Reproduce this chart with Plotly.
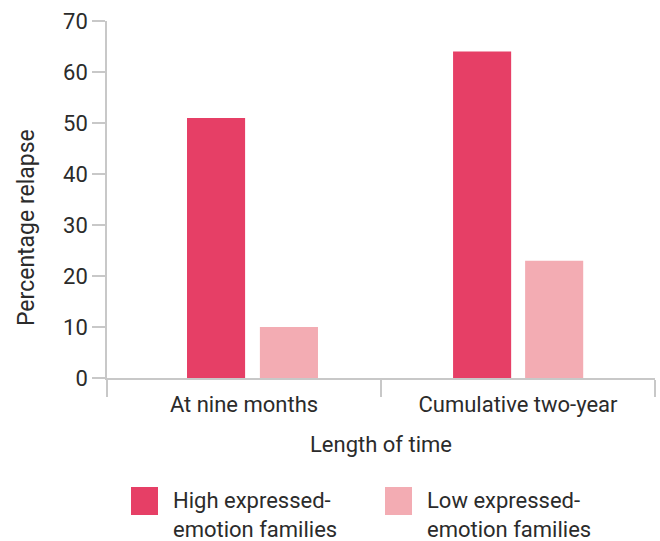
import plotly.graph_objects as go

# Relapse rates by family expressed-emotion level
categories = ["At nine months", "Cumulative two-year"]
high_ee = [51, 64]
low_ee = [10, 23]
series_names = ["High expressed-<br>emotion families", "Low expressed-<br>emotion families"]
y_ticks = [0, 10, 20, 30, 40, 50, 60, 70]

HIGH_COLOR = "#E63F66"
LOW_COLOR = "#F3ACB3"
AXIS_COLOR = "#C8C8C8"
TEXT_COLOR = "#2B2B2B"
FONT = "Roboto, Arial, sans-serif"
FS = 22
BAR_W = 0.212

fig = go.Figure()
fig.add_trace(go.Bar(x=categories, y=high_ee, name=series_names[0],
                     width=BAR_W, offset=[-0.208, -0.237],
                     marker=dict(color=HIGH_COLOR, line=dict(width=0))))
fig.add_trace(go.Bar(x=categories, y=low_ee, name=series_names[1],
                     width=BAR_W, offset=[0.058, 0.026],
                     marker=dict(color=LOW_COLOR, line=dict(width=0))))

fig.update_layout(
    width=660, height=541,
    margin=dict(l=107, r=5, t=21, b=163),
    paper_bgcolor="white", plot_bgcolor="white",
    barmode="group",
    showlegend=False,
    font=dict(family=FONT, size=FS, color=TEXT_COLOR),
)
fig.update_xaxes(
    range=[-0.5, 1.5],
    showline=True, linecolor=AXIS_COLOR, linewidth=1.5,
    ticks="outside", tickson="boundaries", ticklen=17,
    tickcolor=AXIS_COLOR, tickwidth=1.5, ticklabelstandoff=6,
    tickfont=dict(size=FS, color=TEXT_COLOR),
    title=dict(text="Length of time", font=dict(size=FS, color=TEXT_COLOR), standoff=20),
    showgrid=False, zeroline=False,
)
fig.update_yaxes(
    range=[0, 70], tickvals=y_ticks,
    showline=True, linecolor=AXIS_COLOR, linewidth=1.5,
    ticks="outside", ticklen=13, tickcolor=AXIS_COLOR, tickwidth=1.5,
    tickfont=dict(size=FS, color=TEXT_COLOR),
    showgrid=False, zeroline=False,
)

# Y-axis title placed as a rotated annotation
fig.add_annotation(xref="paper", yref="paper",
                   x=(27 - 107) / 548, y=(378 - 228) / 357,
                   xanchor="center", yanchor="middle", textangle=-90,
                   text="Percentage relapse", showarrow=False,
                   font=dict(size=23, color=TEXT_COLOR, family=FONT))

# Custom legend with large swatches below the chart
legend_items = [(series_names[0], HIGH_COLOR, 131), (series_names[1], LOW_COLOR, 385)]
for label, color, px in legend_items:
    x0 = (px - 107) / 548
    x1 = (px + 27 - 107) / 548
    fig.add_shape(type="rect", xref="paper", yref="paper",
                  x0=x0, x1=x1, y0=(378 - 515) / 357, y1=(378 - 487) / 357,
                  fillcolor=color, line=dict(width=0))
    fig.add_annotation(xref="paper", yref="paper",
                       x=(px + 40 - 107) / 548, y=(378 - 486) / 357,
                       xanchor="left", yanchor="top", align="left",
                       text=label, showarrow=False,
                       font=dict(size=FS, color=TEXT_COLOR, family=FONT))

fig.write_html("out.html")
